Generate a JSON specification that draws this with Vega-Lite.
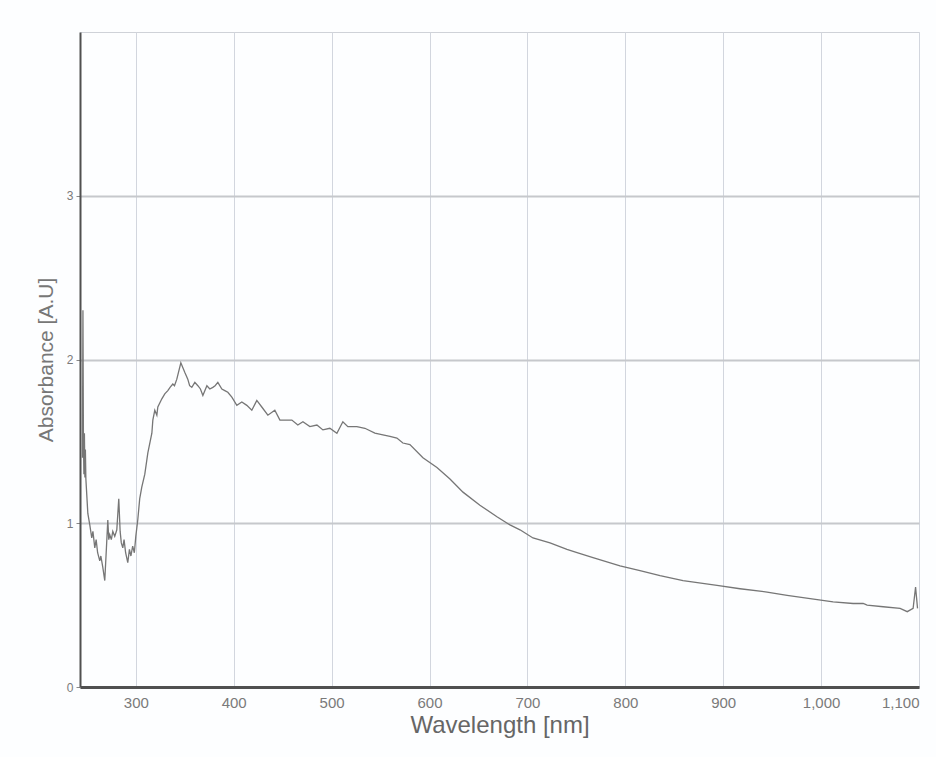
{
  "$schema": "https://vega.github.io/schema/vega-lite/v6.json",
  "width": 839,
  "height": 655,
  "autosize": {"type": "none"},
  "padding": {"left": 80, "top": 32, "right": 17, "bottom": 70},
  "background": "#fdfeff",
  "config": {
    "font": "Liberation Sans",
    "view": {"stroke": "#cfd2d8", "strokeWidth": 1}
  },
  "data": {
    "values": [
      {"wl": 245.5, "abs": 1.40}, {"wl": 246.0, "abs": 2.30}, {"wl": 246.5, "abs": 1.50},
      {"wl": 247.0, "abs": 1.30}, {"wl": 247.5, "abs": 1.55}, {"wl": 248.0, "abs": 1.28},
      {"wl": 248.5, "abs": 1.45}, {"wl": 249.0, "abs": 1.27}, {"wl": 251.0, "abs": 1.06},
      {"wl": 253.0, "abs": 0.99}, {"wl": 255.0, "abs": 0.91}, {"wl": 256.2, "abs": 0.95},
      {"wl": 258.1, "abs": 0.85}, {"wl": 259.5, "abs": 0.90}, {"wl": 261.0, "abs": 0.82},
      {"wl": 263.2, "abs": 0.77}, {"wl": 264.3, "abs": 0.80}, {"wl": 266.3, "abs": 0.73},
      {"wl": 268.3, "abs": 0.65}, {"wl": 270.0, "abs": 0.85}, {"wl": 271.4, "abs": 1.02},
      {"wl": 272.4, "abs": 0.90}, {"wl": 273.4, "abs": 0.93}, {"wl": 275.0, "abs": 0.90},
      {"wl": 276.5, "abs": 0.95}, {"wl": 278.5, "abs": 0.92}, {"wl": 280.6, "abs": 0.96},
      {"wl": 282.6, "abs": 1.15}, {"wl": 284.0, "abs": 0.95}, {"wl": 285.2, "abs": 0.88},
      {"wl": 286.7, "abs": 0.85}, {"wl": 288.0, "abs": 0.90}, {"wl": 289.6, "abs": 0.82},
      {"wl": 291.8, "abs": 0.76}, {"wl": 293.5, "abs": 0.84}, {"wl": 295.0, "abs": 0.80},
      {"wl": 296.8, "abs": 0.86}, {"wl": 298.5, "abs": 0.82}, {"wl": 300.0, "abs": 0.92},
      {"wl": 302.0, "abs": 1.02}, {"wl": 304.0, "abs": 1.15},
      {"wl": 306.1, "abs": 1.22}, {"wl": 309.2, "abs": 1.30}, {"wl": 312.3, "abs": 1.43},
      {"wl": 316.4, "abs": 1.55}, {"wl": 317.4, "abs": 1.63}, {"wl": 319.4, "abs": 1.69},
      {"wl": 321.5, "abs": 1.66}, {"wl": 322.5, "abs": 1.71}, {"wl": 326.6, "abs": 1.76},
      {"wl": 329.6, "abs": 1.79}, {"wl": 332.7, "abs": 1.81}, {"wl": 335.0, "abs": 1.83},
      {"wl": 337.8, "abs": 1.85}, {"wl": 339.5, "abs": 1.84},
      {"wl": 341.9, "abs": 1.88}, {"wl": 346.0, "abs": 1.98}, {"wl": 350.1, "abs": 1.92},
      {"wl": 353.1, "abs": 1.88}, {"wl": 355.0, "abs": 1.84}, {"wl": 357.2, "abs": 1.83},
      {"wl": 360.3, "abs": 1.86},
      {"wl": 363.4, "abs": 1.84}, {"wl": 366.0, "abs": 1.82}, {"wl": 368.5, "abs": 1.78},
      {"wl": 372.6, "abs": 1.84}, {"wl": 375.6, "abs": 1.82}, {"wl": 378.7, "abs": 1.83},
      {"wl": 381.0, "abs": 1.84}, {"wl": 383.8, "abs": 1.86},
      {"wl": 387.9, "abs": 1.82}, {"wl": 390.9, "abs": 1.81}, {"wl": 394.0, "abs": 1.80},
      {"wl": 398.1, "abs": 1.77}, {"wl": 403.2, "abs": 1.72}, {"wl": 408.3, "abs": 1.74},
      {"wl": 413.4, "abs": 1.72}, {"wl": 418.5, "abs": 1.69}, {"wl": 423.6, "abs": 1.75},
      {"wl": 428.7, "abs": 1.71}, {"wl": 434.9, "abs": 1.66}, {"wl": 442.0, "abs": 1.69},
      {"wl": 447.2, "abs": 1.63}, {"wl": 454.3, "abs": 1.63}, {"wl": 459.4, "abs": 1.63},
      {"wl": 465.5, "abs": 1.60}, {"wl": 470.7, "abs": 1.62}, {"wl": 477.8, "abs": 1.59},
      {"wl": 485.0, "abs": 1.60}, {"wl": 491.1, "abs": 1.57}, {"wl": 498.2, "abs": 1.58},
      {"wl": 505.4, "abs": 1.55}, {"wl": 511.5, "abs": 1.62}, {"wl": 516.6, "abs": 1.59},
      {"wl": 525.8, "abs": 1.59}, {"wl": 534.0, "abs": 1.58}, {"wl": 544.2, "abs": 1.55},
      {"wl": 552.4, "abs": 1.54}, {"wl": 559.6, "abs": 1.53}, {"wl": 566.7, "abs": 1.52},
      {"wl": 572.8, "abs": 1.49}, {"wl": 580.0, "abs": 1.48}, {"wl": 593.3, "abs": 1.40},
      {"wl": 607.6, "abs": 1.34}, {"wl": 620.9, "abs": 1.27}, {"wl": 634.2, "abs": 1.19},
      {"wl": 651.5, "abs": 1.11}, {"wl": 668.9, "abs": 1.04}, {"wl": 682.2, "abs": 0.99},
      {"wl": 692.4, "abs": 0.96}, {"wl": 705.7, "abs": 0.91}, {"wl": 723.1, "abs": 0.88},
      {"wl": 740.4, "abs": 0.84}, {"wl": 750.7, "abs": 0.82}, {"wl": 767.0, "abs": 0.79},
      {"wl": 794.6, "abs": 0.74}, {"wl": 815.0, "abs": 0.71}, {"wl": 835.5, "abs": 0.68},
      {"wl": 859.0, "abs": 0.65}, {"wl": 893.7, "abs": 0.62}, {"wl": 917.2, "abs": 0.60},
      {"wl": 944.8, "abs": 0.58}, {"wl": 965.3, "abs": 0.56}, {"wl": 988.8, "abs": 0.54},
      {"wl": 1012.3, "abs": 0.52}, {"wl": 1032.7, "abs": 0.51}, {"wl": 1043.0, "abs": 0.51},
      {"wl": 1047.0, "abs": 0.50}, {"wl": 1063.4, "abs": 0.49}, {"wl": 1080.7, "abs": 0.48},
      {"wl": 1088.0, "abs": 0.46}, {"wl": 1094.0, "abs": 0.48}, {"wl": 1096.5, "abs": 0.61},
      {"wl": 1098.5, "abs": 0.48}
    ]
  },
  "mark": {"type": "line", "color": "#767676", "strokeWidth": 1.3, "interpolate": "linear"},
  "encoding": {
    "x": {
      "field": "wl",
      "type": "quantitative",
      "scale": {"domain": [243, 1100], "nice": false, "zero": false},
      "axis": {
        "title": "Wavelength [nm]",
        "values": [300, 400, 500, 600, 700, 800, 900, 1000, 1100],
        "format": ",d",
        "labelFlush": true,
        "labelFontSize": 15,
        "labelColor": "#7a7a7a",
        "labelPadding": 8,
        "ticks": false,
        "domainColor": "#505050",
        "domainWidth": 3,
        "grid": true,
        "gridColor": "#d2d6de",
        "gridWidth": 1,
        "titleFontSize": 24,
        "titleFontWeight": "normal",
        "titleColor": "#666666",
        "titlePadding": 3
      }
    },
    "y": {
      "field": "abs",
      "type": "quantitative",
      "scale": {"domain": [0, 4], "nice": false},
      "axis": {
        "title": "Absorbance [A.U]",
        "values": [0, 1, 2, 3],
        "labelFontSize": 12,
        "labelColor": "#7a7a7a",
        "tickSize": 4,
        "tickColor": "#888888",
        "labelPadding": 3,
        "domainColor": "#505050",
        "domainWidth": 2,
        "grid": true,
        "gridColor": "#c6c8cc",
        "gridWidth": 2,
        "titleFontSize": 21,
        "titleFontWeight": "normal",
        "titleColor": "#777777",
        "titlePadding": 10
      }
    }
  }
}
